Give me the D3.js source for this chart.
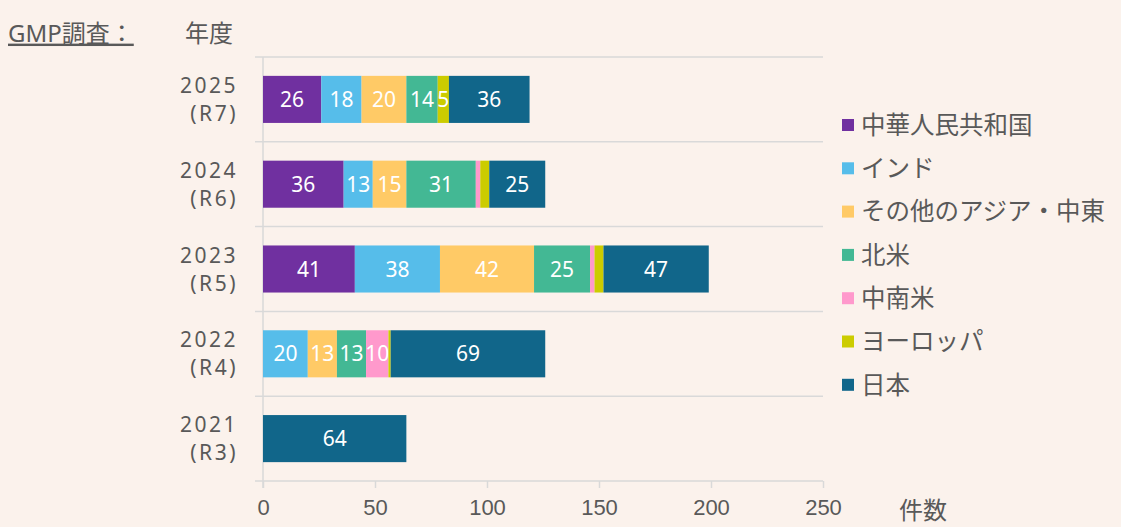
<!DOCTYPE html>
<html><head><meta charset="utf-8">
<script src="https://cdn.jsdelivr.net/npm/d3@7"></script>
<style>
html,body{margin:0;padding:0;background:#FBF2EC;}
svg{display:block;font-family:"Noto Sans","Noto Sans CJK JP",sans-serif;}
</style></head>
<body>
<svg id="c" width="1121" height="527"></svg>
<script>
const years = ["2025","2024","2023","2022","2021"];
const reiwa = ["(R7)","(R6)","(R5)","(R4)","(R3)"];
const seriesNames = ["中華人民共和国","インド","その他のアジア・中東","北米","中南米","ヨーロッパ","日本"];
const seriesColors = ["#7030A0","#56BDEA","#FFCA66","#43B894","#FF99CC","#CCCC00","#11668A"];
const china   = [26,36,41,0,0];
const india   = [18,13,38,20,0];
const otherAsia = [20,15,42,13,0];
const northAm = [14,31,25,13,0];
const latinAm = [0,2,2,10,0];
const europe  = [5,4,4,1,0];
const japan   = [36,25,47,69,64];
const xTicks = [0,50,100,150,200,250];

const seriesValues = [china,india,otherAsia,northAm,latinAm,europe,japan];
const table = years.map((y,i)=>{const o={year:y,r:reiwa[i]}; seriesNames.forEach((s,j)=>o[s]=seriesValues[j][i]); return o;});
const stack = d3.stack().keys(seriesNames)(table);

const svg = d3.select("#c");
const textCol = "#595959", gridCol = "#D9D9D9";
const x = d3.scaleLinear().domain([0,250]).range([263,823]);
const y = d3.scaleBand().domain(years).range([57,481]).paddingInner(0.445).paddingOuter(0.2225);
const step = y.step();

// category separators
const bounds = years.map(d=>y(d)+y.bandwidth()/2-step/2).concat([481]);
svg.append("g").selectAll("line").data(bounds).join("line")
  .attr("x1",255).attr("x2",x(250)).attr("y1",d=>d).attr("y2",d=>d)
  .attr("stroke",gridCol).attr("stroke-width",1.5);
// vertical axis line
svg.append("line").attr("x1",x(0)).attr("x2",x(0)).attr("y1",57).attr("y2",488)
  .attr("stroke",gridCol).attr("stroke-width",1.5);

// x axis ticks
const xa = svg.append("g").attr("transform","translate(0,481)")
  .call(d3.axisBottom(x).tickValues(xTicks).tickSize(7).tickSizeOuter(0).tickPadding(11));
xa.select(".domain").remove();
xa.selectAll("line").attr("stroke",gridCol).attr("stroke-width",1.5);
xa.selectAll("text").attr("fill",textCol).attr("font-size",22);

// bars
const g = svg.append("g");
stack.forEach((s,j)=>{
  g.append("g").selectAll("rect").data(s).join("rect")
    .attr("x",d=>x(d[0])).attr("width",d=>x(d[1])-x(d[0]))
    .attr("y",d=>y(d.data.year)).attr("height",y.bandwidth())
    .attr("fill",seriesColors[j]);
  g.append("g").selectAll("text").data(s.filter(d=>d[1]-d[0]>=5)).join("text")
    .attr("x",d=>(x(d[0])+x(d[1]))/2).attr("y",d=>y(d.data.year)+y.bandwidth()/2)
    .attr("dy","0.36em").attr("text-anchor","middle").attr("fill","#fff")
    .attr("font-size",21).text(d=>d[1]-d[0]);
});

// category labels
const cl = svg.append("g");
years.forEach((yr,i)=>{
  const cy = y(yr)+y.bandwidth()/2;
  cl.append("text").attr("x",238).attr("y",cy-14).attr("dy","0.36em").attr("text-anchor","end")
    .attr("fill",textCol).attr("font-size",21).attr("letter-spacing","2.5px").text(yr);
  cl.append("text").attr("x",238).attr("y",cy+14).attr("dy","0.36em").attr("text-anchor","end")
    .attr("fill",textCol).attr("font-size",21).attr("letter-spacing","2.5px").text(reiwa[i]);
});

// legend
const lg = svg.append("g");
seriesNames.forEach((n,i)=>{
  const cy = 125 + i*43.3;
  lg.append("rect").attr("x",842).attr("y",cy-6).attr("width",12).attr("height",12).attr("fill",seriesColors[i]);
  lg.append("text").attr("x",861).attr("y",cy).attr("dy","0.36em").attr("fill",textCol)
    .attr("font-size",24.5).text(n);
});

// titles
svg.append("text").attr("x",8).attr("y",33).attr("dy","0.36em").attr("fill",textCol)
  .attr("font-size",24).attr("text-decoration","underline").text("GMP調査：");
svg.append("text").attr("x",185).attr("y",33).attr("dy","0.36em").attr("fill",textCol)
  .attr("font-size",24).text("年度");
svg.append("text").attr("x",899).attr("y",510).attr("dy","0.36em").attr("fill",textCol)
  .attr("font-size",24).text("件数");
</script>
</body></html>
